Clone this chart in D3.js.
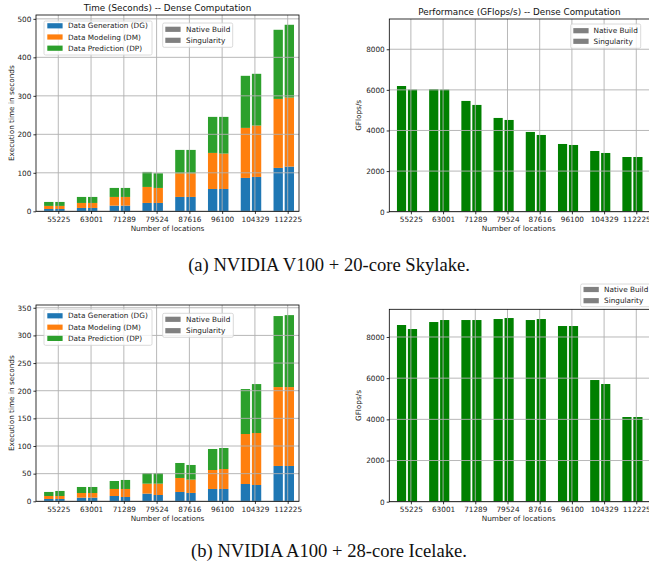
<!DOCTYPE html>
<html>
<head>
<meta charset="utf-8">
<script src="https://cdn.jsdelivr.net/npm/d3@7"></script>
<style>
  body { margin: 0; background: #fff; }
  svg { display: block; }
  .tick text { font-family: "DejaVu Sans", sans-serif; font-size: 7.3px; fill: #222; }
</style>
</head>
<body>
<div class="visual"></div>
<script>
// ---- data ----
const locations = ["55225", "63001", "71289", "79524", "87616", "96100", "104329", "112225"];
const stages = ["Data Generation (DG)", "Data Modeling (DM)", "Data Prediction (DP)"];
const builds = ["Native Build", "Singularity"];

// (a) V100 time, seconds, per stage
const v100NativeDG = [6, 8.7, 14.7, 21.7, 37.3, 58, 86.7, 112.7];
const v100NativeDM = [8, 13, 22.6, 41.6, 61.5, 93.7, 130, 179.3];
const v100NativeDP = [10.3, 15.6, 23.4, 39, 60.7, 93.6, 135.3, 179.6];
const v100SingDG = [6, 8.7, 14.7, 21.7, 37.3, 58, 89.3, 116.2];
const v100SingDM = [8, 13, 22.6, 39, 61.5, 92, 133.5, 179.4];
const v100SingDP = [10.3, 15.6, 23.4, 38.1, 60.7, 95.3, 134.4, 189];

// (a) V100 performance, GFlops/s
const v100NativePerf = [6190, 6030, 5455, 4617, 3927, 3335, 2990, 2694];
const v100SingPerf = [6013, 6013, 5258, 4518, 3779, 3286, 2892, 2694];

// (b) A100 time, seconds, per stage
const a100NativeDG = [4.2, 6.6, 9.6, 13.9, 16.9, 22.3, 31.3, 63.9];
const a100NativeDM = [5.4, 8.4, 12.7, 18, 25.3, 34.3, 90.4, 142.7];
const a100NativeDP = [7.3, 10.9, 14.4, 19.3, 27.1, 38, 81.3, 128.4];
const a100SingDG = [4.2, 6.6, 7.8, 11.4, 15.1, 22.3, 29.5, 63.9];
const a100SingDM = [5.4, 8.4, 14.5, 20.5, 24.1, 36.1, 94, 142.7];
const a100SingDP = [9.1, 10.9, 16.3, 19.3, 26.5, 38, 88.5, 130.1];

// (b) A100 performance, GFlops/s
const a100NativePerf = [8582, 8727, 8824, 8873, 8824, 8533, 5910, 4113];
const a100SingPerf = [8387, 8824, 8824, 8921, 8873, 8533, 5716, 4113];

const timeTicksA = [0, 100, 200, 300, 400, 500];
const timeTicksB = [0, 50, 100, 150, 200, 250, 300, 350];
const perfTicks = [0, 2000, 4000, 6000, 8000];

const stageColors = ["#1f77b4", "#ff7f0e", "#2ca02c"];
const perfColor = "#008000";
const legendGray = "#808080";

const W = 649, H = 567;
const barW = 0.285, secondOffset = 0.34, tickOffset = 0.29;
const sans = '"DejaVu Sans", sans-serif';

const svg = d3.select(".visual").append("svg")
  .attr("width", W).attr("height", H);

const panels = [
  { kind: "time", x0: 36, x1: 299, top: 15, bottom: 211.3, ymax: 510, ticks: timeTicksA,
    title: "Time (Seconds) -- Dense Computation", titleY: 10.6,
    native: [v100NativeDG, v100NativeDM, v100NativeDP], sing: [v100SingDG, v100SingDM, v100SingDP],
    stageLegend: { x: 44, y: 21, w: 108, h: 34, rows: [25.8, 37, 48.2], px: 47.3, tx: 68 },
    buildLegend: { x: 162.7, y: 23, w: 70, h: 24.3, rows: [29.3, 40.3], px: 165.3, tx: 186 } },
  { kind: "perf", x0: 389.3, x1: 649.5, top: 19, bottom: 211.7, ymax: 9490, ticks: perfTicks,
    title: "Performance (GFlops/s) -- Dense Computation", titleY: 14.6,
    native: v100NativePerf, sing: v100SingPerf,
    buildLegend: { x: 570.7, y: 24, w: 70, h: 24.3, rows: [30.7, 41.3], px: 573.3, tx: 593.5 } },
  { kind: "time", x0: 36, x1: 299, top: 305, bottom: 501.3, ymax: 355, ticks: timeTicksB,
    native: [a100NativeDG, a100NativeDM, a100NativeDP], sing: [a100SingDG, a100SingDM, a100SingDP],
    stageLegend: { x: 44, y: 309.3, w: 108, h: 36, rows: [315.8, 327.2, 338.4], px: 47.3, tx: 68 },
    buildLegend: { x: 162.7, y: 313.3, w: 70.6, h: 24, rows: [319.3, 330.7], px: 165.3, tx: 186 } },
  { kind: "perf", x0: 389.3, x1: 649.5, top: 309.3, bottom: 501.7, ymax: 9345, ticks: perfTicks,
    native: a100NativePerf, sing: a100SingPerf,
    buildLegend: { x: 580.7, y: 284, w: 70, h: 22.7, rows: [289.5, 300.7], px: 583.5, tx: 604 } }
];

function drawLegend(g, box, labels, colors) {
  g.append("rect")
    .attr("x", box.x).attr("y", box.y).attr("width", box.w).attr("height", box.h)
    .attr("rx", 1.5).attr("ry", 1.5)
    .attr("fill", "white").attr("fill-opacity", 0.8)
    .attr("stroke", "#d0d0d0").attr("stroke-width", 0.8);
  labels.forEach((lab, i) => {
    g.append("rect")
      .attr("x", box.px).attr("y", box.rows[i] - 2.6)
      .attr("width", 15.3).attr("height", 5.2)
      .attr("fill", colors[i]);
    g.append("text")
      .attr("x", box.tx).attr("y", box.rows[i])
      .attr("dy", "0.36em")
      .style("font-family", sans).style("font-size", "7.3px").style("fill", "#222")
      .text(lab);
  });
}

function drawPanel(p) {
  const g = svg.append("g");
  const x = d3.scaleLinear()
    .domain([-0.39, locations.length - 0.365])
    .range([p.x0, p.x1]);
  if (p.kind === "perf") x.domain([-0.38, locations.length - 0.3]);
  const y = d3.scaleLinear().domain([0, p.ymax]).range([p.bottom, p.top]);
  const bw = x(barW) - x(0);

  const idx = d3.range(locations.length);

  if (p.kind === "time") {
    [[p.native, 0], [p.sing, secondOffset]].forEach(([series, off]) => {
      const rows = idx.map(i => ({ i, DG: series[0][i], DM: series[1][i], DP: series[2][i] }));
      const stack = d3.stack().keys(["DG", "DM", "DP"])(rows);
      stack.forEach((layer, k) => {
        g.append("g").attr("fill", stageColors[k])
          .selectAll("rect").data(layer).enter().append("rect")
          .attr("x", d => x(d.data.i + off) - bw / 2)
          .attr("width", bw)
          .attr("y", d => y(d[1]))
          .attr("height", d => y(d[0]) - y(d[1]));
      });
    });
  } else {
    [[p.native, 0], [p.sing, secondOffset]].forEach(([series, off]) => {
      g.append("g").attr("fill", perfColor)
        .selectAll("rect").data(series).enter().append("rect")
        .attr("x", (d, i) => x(i + off) - bw / 2)
        .attr("width", bw)
        .attr("y", d => y(d))
        .attr("height", d => y(0) - y(d));
    });
  }

  const tickPos = idx.map(i => i + tickOffset);

  // grid, drawn over the bars like matplotlib does
  const grid = g.append("g").attr("stroke", "#b0b0b0").attr("stroke-width", 0.9);
  grid.selectAll(".gy").data(p.ticks).enter().append("line")
    .attr("x1", p.x0).attr("x2", p.x1)
    .attr("y1", d => y(d)).attr("y2", d => y(d));
  grid.selectAll(".gx").data(tickPos).enter().append("line")
    .attr("x1", d => x(d)).attr("x2", d => x(d))
    .attr("y1", p.top).attr("y2", p.bottom);

  // frame
  g.append("rect")
    .attr("x", p.x0).attr("y", p.top)
    .attr("width", p.x1 - p.x0).attr("height", p.bottom - p.top)
    .attr("fill", "none").attr("stroke", "#000").attr("stroke-width", 0.8);

  const xAxis = d3.axisBottom(x)
    .tickValues(tickPos)
    .tickFormat((d, i) => locations[i])
    .tickSize(2.6).tickPadding(2.8);
  const xg = g.append("g").attr("transform", `translate(0,${p.bottom})`).call(xAxis);
  xg.select(".domain").remove();
  xg.selectAll("line").attr("stroke", "#000").attr("stroke-width", 0.8);

  const yAxis = d3.axisLeft(y).tickValues(p.ticks).tickFormat(d3.format("d"))
    .tickSize(2.6).tickPadding(2);
  const yg = g.append("g").attr("transform", `translate(${p.x0},0)`).call(yAxis);
  yg.select(".domain").remove();
  yg.selectAll("line").attr("stroke", "#000").attr("stroke-width", 0.8);

  const cx = (p.x0 + p.x1) / 2;
  g.append("text")
    .attr("x", p.kind === "perf" ? cx - 0.8 : cx).attr("y", p.bottom + 19.5)
    .attr("text-anchor", "middle")
    .style("font-family", sans).style("font-size", "7.3px").style("fill", "#222")
    .text("Number of locations");

  const cy = (p.top + p.bottom) / 2;
  const lx = p.kind === "time" ? 14 : 361.3;
  g.append("text")
    .attr("transform", `translate(${lx},${cy}) rotate(-90)`)
    .attr("text-anchor", "middle")
    .style("font-family", sans).style("font-size", "7.3px").style("fill", "#222")
    .text(p.kind === "time" ? "Execution time in seconds" : "GFlops/s");

  if (p.title) {
    g.append("text")
      .attr("x", cx).attr("y", p.titleY)
      .attr("text-anchor", "middle")
      .style("font-family", sans).style("font-size", "8.8px").style("fill", "#111")
      .text(p.title);
  }

  if (p.stageLegend) drawLegend(g, p.stageLegend, stages, stageColors);
  drawLegend(g, p.buildLegend, builds, [legendGray, legendGray]);
}

panels.forEach(drawPanel);

const captions = [
  { text: "(a) NVIDIA V100 + 20-core Skylake.", y: 271 },
  { text: "(b) NVIDIA A100 + 28-core Icelake.", y: 557 }
];
svg.selectAll(".caption").data(captions).enter().append("text")
  .attr("x", 329).attr("y", d => d.y)
  .attr("text-anchor", "middle")
  .style("font-family", '"Liberation Serif", "Times New Roman", serif')
  .style("font-size", "18.6px").style("fill", "#111")
  .text(d => d.text);
</script>
</body>
</html>
